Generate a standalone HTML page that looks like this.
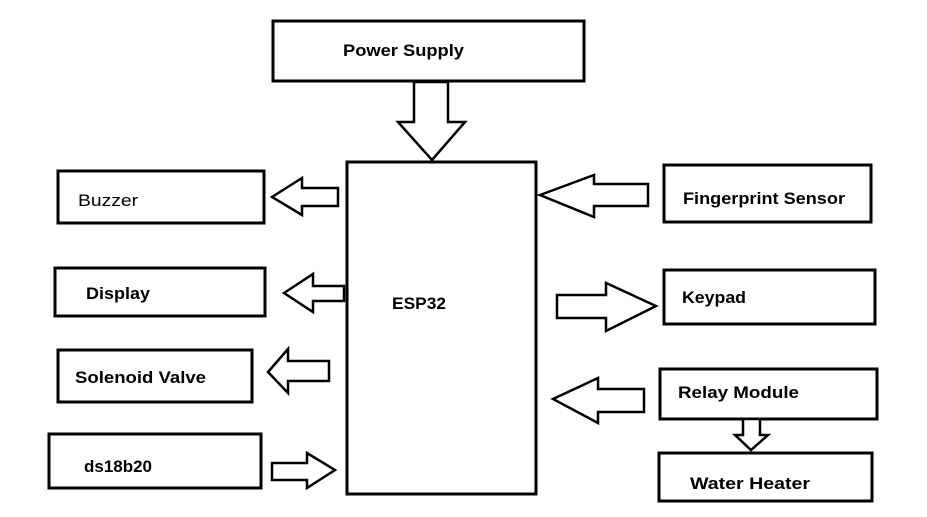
<!DOCTYPE html>
<html><head><style>body{margin:0;background:#fff}svg{display:block}</style></head>
<body>
<svg width="927" height="517" viewBox="0 0 927 517" xmlns="http://www.w3.org/2000/svg">
<g fill="#fff" stroke="#000" stroke-width="3" stroke-linejoin="miter">
<rect x="273" y="21" width="311" height="60"/>
<rect x="347" y="162" width="189" height="332"/>
<rect x="58" y="171" width="206" height="52"/>
<rect x="55" y="268" width="210" height="48"/>
<rect x="58" y="350" width="194" height="52"/>
<rect x="49" y="434" width="212" height="54"/>
<rect x="664" y="165" width="207" height="57"/>
<rect x="664" y="270" width="211" height="54"/>
<rect x="660" y="369" width="217" height="50"/>
<rect x="659" y="453" width="213" height="48"/>
</g>
<g fill="#fff" stroke="#000" stroke-width="2.5" stroke-linejoin="miter">
<polygon points="414,82 448,82 448,122 465,122 432,160 398,122 414,122"/>
<polygon points="272,197 302,178 302,188 338,188 338,206 302,206 302,215"/>
<polygon points="284,293 313,274 313,286 344,286 344,301 313,301 313,312"/>
<polygon points="268,372 288,349 288,361 329,361 329,381 288,381 288,393"/>
<polygon points="272,463 307,463 307,453 335,470 307,488 307,480 272,480"/>
<polygon points="540,195 594,175 594,184 648,184 648,206 594,206 594,217"/>
<polygon points="557,295 606,295 606,283 656,306 606,331 606,318 557,318"/>
<polygon points="553,399 598,378 598,389 644,389 644,412 598,412 598,423"/>
<polygon points="743,419 760,419 760,435 768,435 751,450 735,435 743,435"/>
</g>
<g font-family="Liberation Sans, sans-serif" font-size="17" font-weight="bold" fill="#000">
<text x="343" y="56" textLength="121" lengthAdjust="spacingAndGlyphs">Power Supply</text>
<text x="78" y="206" textLength="60" font-weight="normal" lengthAdjust="spacingAndGlyphs">Buzzer</text>
<text x="86" y="299" textLength="64" lengthAdjust="spacingAndGlyphs">Display</text>
<text x="75" y="383" textLength="131" lengthAdjust="spacingAndGlyphs">Solenoid Valve</text>
<text x="84" y="472" textLength="68" lengthAdjust="spacingAndGlyphs">ds18b20</text>
<text x="392" y="309" textLength="54" lengthAdjust="spacingAndGlyphs">ESP32</text>
<text x="683" y="204" textLength="162" lengthAdjust="spacingAndGlyphs">Fingerprint Sensor</text>
<text x="682" y="303" textLength="64" lengthAdjust="spacingAndGlyphs">Keypad</text>
<text x="678" y="398" textLength="121" lengthAdjust="spacingAndGlyphs">Relay Module</text>
<text x="690" y="489" textLength="120" lengthAdjust="spacingAndGlyphs">Water Heater</text>
</g>
</svg>
</body></html>
